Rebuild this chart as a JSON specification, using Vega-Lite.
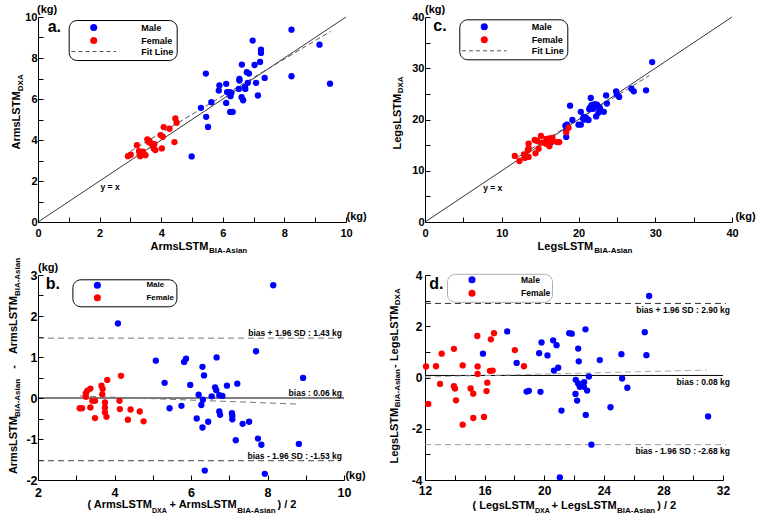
{
"$schema": "https://vega.github.io/schema/vega-lite/v6.json",
"background": "white",
"padding": {"left": 8, "top": 4, "right": 2, "bottom": 0},
"config": {
  "view": {"stroke": null},
  "font": "Liberation Sans",
  "axis": {"grid": false, "domainColor": "black", "tickColor": "black", "labelColor": "black", "labelFontWeight": "bold", "labelFont": "Liberation Sans", "tickSize": -5, "domainWidth": 1, "tickWidth": 1, "labelFlush": false, "labelOverlap": false},
  "text": {"font": "Liberation Sans", "fontWeight": "bold", "color": "black"},
  "legend": {"labelFont": "Liberation Sans", "labelFontWeight": "bold", "labelColor": "black"}
},
"columns": 2,
"spacing": {"row": 53, "column": 79},
"bounds": "flush",
"resolve": {"scale": {"color": "independent", "x": "independent", "y": "independent"}, "legend": {"color": "independent"}},
"concat": [
{
  "width": 308, "height": 205,
  "encoding": {
    "x": {"field": "x", "type": "quantitative", "title": null, "scale": {"domain": [0, 10], "nice": false, "zero": false},
      "axis": {"values": [0,1,2,3,4,5,6,7,8,9,10], "labelExpr": "datum.value % 2 === 0 ? '' + datum.value : ''", "labelFontSize": 11, "labelPadding": 10}},
    "y": {"field": "y", "type": "quantitative", "title": null, "scale": {"domain": [0, 10], "nice": false, "zero": false},
      "axis": {"values": [0,1,2,3,4,5,6,7,8,9,10], "labelExpr": "datum.value % 2 === 0 ? '' + datum.value : ''", "labelFontSize": 11, "labelPadding": 6}}
  },
  "layer": [
    {"data": {"values": [{"x": 0, "y": 0, "x2": 10, "y2": 10}]}, "mark": {"type": "rule", "color": "black", "strokeWidth": 0.8}, "encoding": {"x2": {"field": "x2"}, "y2": {"field": "y2"}}},
    {"data": {"values": [{"x": 3.0, "y": 3.45, "x2": 9.5, "y2": 9.3}]}, "mark": {"type": "rule", "color": "#555555", "strokeDash": [5, 3], "strokeWidth": 1}, "encoding": {"x2": {"field": "x2"}, "y2": {"field": "y2"}}},
    {"data": {"values": [
      {"x":8.23,"y":9.38,"s":"Male"},{"x":6.97,"y":8.85,"s":"Male"},{"x":9.14,"y":8.65,"s":"Male"},{"x":7.24,"y":8.41,"s":"Male"},{"x":7.24,"y":8.25,"s":"Male"},{"x":7.21,"y":7.81,"s":"Male"},{"x":6.62,"y":7.68,"s":"Male"},{"x":7.03,"y":7.66,"s":"Male"},{"x":6.78,"y":7.31,"s":"Male"},{"x":6.85,"y":7.24,"s":"Male"},{"x":5.45,"y":7.24,"s":"Male"},{"x":8.23,"y":7.11,"s":"Male"},{"x":7.36,"y":7.03,"s":"Male"},{"x":6.54,"y":6.98,"s":"Male"},{"x":6.54,"y":6.9,"s":"Male"},{"x":5.89,"y":6.66,"s":"Male"},{"x":6.11,"y":6.74,"s":"Male"},{"x":6.81,"y":6.79,"s":"Male"},{"x":7.08,"y":6.79,"s":"Male"},{"x":9.48,"y":6.75,"s":"Male"},{"x":6.72,"y":6.59,"s":"Male"},{"x":6.52,"y":6.49,"s":"Male"},{"x":6.73,"y":6.49,"s":"Male"},{"x":5.87,"y":6.41,"s":"Male"},{"x":6.14,"y":6.33,"s":"Male"},{"x":6.23,"y":6.33,"s":"Male"},{"x":6.28,"y":6.3,"s":"Male"},{"x":6.25,"y":6.14,"s":"Male"},{"x":7.14,"y":6.17,"s":"Male"},{"x":6.61,"y":6.09,"s":"Male"},{"x":6.66,"y":5.94,"s":"Male"},{"x":5.63,"y":5.84,"s":"Male"},{"x":6.11,"y":5.81,"s":"Male"},{"x":5.29,"y":5.57,"s":"Male"},{"x":6.24,"y":5.37,"s":"Male"},{"x":6.32,"y":5.37,"s":"Male"},{"x":5.46,"y":5.13,"s":"Male"},{"x":5.52,"y":4.64,"s":"Male"},{"x":4.99,"y":3.2,"s":"Male"},
      {"x":2.92,"y":3.21,"s":"Female"},{"x":3.01,"y":3.28,"s":"Female"},{"x":3.21,"y":3.75,"s":"Female"},{"x":3.28,"y":3.46,"s":"Female"},{"x":3.32,"y":3.21,"s":"Female"},{"x":3.35,"y":3.38,"s":"Female"},{"x":3.41,"y":3.43,"s":"Female"},{"x":3.49,"y":3.26,"s":"Female"},{"x":3.55,"y":4.03,"s":"Female"},{"x":3.59,"y":3.9,"s":"Female"},{"x":3.68,"y":3.83,"s":"Female"},{"x":3.73,"y":3.7,"s":"Female"},{"x":3.76,"y":3.59,"s":"Female"},{"x":3.81,"y":3.51,"s":"Female"},{"x":4.02,"y":3.59,"s":"Female"},{"x":3.98,"y":4.24,"s":"Female"},{"x":4.05,"y":4.16,"s":"Female"},{"x":4.08,"y":4.63,"s":"Female"},{"x":4.27,"y":4.55,"s":"Female"},{"x":4.43,"y":3.9,"s":"Female"},{"x":4.46,"y":5.05,"s":"Female"},{"x":4.5,"y":4.84,"s":"Female"},{"x":3.3,"y":3.3,"s":"Female"},{"x":3.62,"y":3.95,"s":"Female"},{"x":3.78,"y":3.8,"s":"Female"}
    ]},
     "mark": {"type": "circle", "size": 40, "opacity": 1},
     "encoding": {"color": {"field": "s", "type": "nominal", "scale": {"domain": ["Male", "Female", "Fit Line"], "range": ["#0000ff", "#ff0000", "transparent"]},
       "legend": {"orient": "none", "legendX": 30.7, "legendY": 3, "title": null, "strokeColor": "black", "cornerRadius": 8, "padding": 3, "symbolSize": 50, "symbolOffset": 17.5, "labelOffset": 43, "rowPadding": 0, "labelFontSize": 9,
         "symbolType": {"expr": "datum.value === 'Fit Line' ? 'M-6.3,0H6.3' : 'circle'"},
         "symbolStrokeColor": {"expr": "datum.value === 'Fit Line' ? '#555555' : 'transparent'"},
         "symbolStrokeWidth": 1, "symbolDash": [4, 3], "symbolOpacity": 1}}}},
    {"data": {"values": [{"x": 0, "y": 10, "t": "(kg)"}]}, "mark": {"type": "text", "align": "left", "baseline": "middle", "dx": -1, "dy": -7, "fontSize": 11}, "encoding": {"text": {"field": "t"}}},
    {"data": {"values": [{"x": 10, "y": 0, "t": "(kg)"}]}, "mark": {"type": "text", "align": "left", "baseline": "middle", "dx": 0.5, "dy": -4.7, "fontSize": 11}, "encoding": {"text": {"field": "t"}}},
    {"data": {"values": [{"x": 0, "y": 10, "t": "a."}]}, "mark": {"type": "text", "align": "left", "baseline": "alphabetic", "dx": 9.7, "dy": 15, "fontSize": 16}, "encoding": {"text": {"field": "t"}}},
    {"data": {"values": [{"x": 2, "y": 2, "t": "y = x"}]}, "mark": {"type": "text", "align": "center", "baseline": "middle", "dx": 10.5, "dy": 6, "fontSize": 8.5}, "encoding": {"text": {"field": "t"}}},
    {"data": {"values": [{"x": 0, "y": 5, "t": "ArmsLSTM"}]}, "mark": {"type": "text", "angle": 270, "align": "left", "baseline": "alphabetic", "dx": -30, "dy": -17.6, "fontSize": 11}, "encoding": {"text": {"field": "t"}}},
    {"data": {"values": [{"x": 0, "y": 5, "t": "DXA"}]}, "mark": {"type": "text", "angle": 270, "align": "left", "baseline": "alphabetic", "dx": 28.3, "dy": -15.3, "fontSize": 8}, "encoding": {"text": {"field": "t"}}},
    {"data": {"values": [{"x": 5, "y": 0, "t": "ArmsLSTM"}]}, "mark": {"type": "text", "align": "right", "baseline": "alphabetic", "dx": 16.5, "dy": 28, "fontSize": 11}, "encoding": {"text": {"field": "t"}}},
    {"data": {"values": [{"x": 5, "y": 0, "t": "BIA-Asian"}]}, "mark": {"type": "text", "align": "left", "baseline": "alphabetic", "dx": 17, "dy": 30.5, "fontSize": 8}, "encoding": {"text": {"field": "t"}}}
  ]
},
{
  "width": 307, "height": 205,
  "encoding": {
    "x": {"field": "x", "type": "quantitative", "title": null, "scale": {"domain": [0, 40], "nice": false, "zero": false},
      "axis": {"values": [0,5,10,15,20,25,30,35,40], "labelExpr": "datum.value % 10 === 0 ? '' + datum.value : ''", "labelFontSize": 11, "labelPadding": 10}},
    "y": {"field": "y", "type": "quantitative", "title": null, "scale": {"domain": [0, 40], "nice": false, "zero": false},
      "axis": {"values": [0,5,10,15,20,25,30,35,40], "labelExpr": "datum.value % 10 === 0 ? '' + datum.value : ''", "labelFontSize": 11, "labelPadding": 6}}
  },
  "layer": [
    {"data": {"values": [{"x": 0, "y": 0, "x2": 40, "y2": 40}]}, "mark": {"type": "rule", "color": "black", "strokeWidth": 0.8}, "encoding": {"x2": {"field": "x2"}, "y2": {"field": "y2"}}},
    {"data": {"values": [{"x": 12, "y": 12.56, "x2": 29.2, "y2": 28.55}]}, "mark": {"type": "rule", "color": "#555555", "strokeDash": [5, 3], "strokeWidth": 1}, "encoding": {"x2": {"field": "x2"}, "y2": {"field": "y2"}}},
    {"data": {"values": [
      {"x":29.6,"y":31.2,"s":"Male"},{"x":26.9,"y":26.0,"s":"Male"},{"x":27.2,"y":25.5,"s":"Male"},{"x":28.8,"y":25.7,"s":"Male"},{"x":24.9,"y":25.5,"s":"Male"},{"x":25.0,"y":24.9,"s":"Male"},{"x":25.3,"y":24.4,"s":"Male"},{"x":23.6,"y":24.7,"s":"Male"},{"x":23.7,"y":23.1,"s":"Male"},{"x":21.6,"y":24.2,"s":"Male"},{"x":18.9,"y":22.7,"s":"Male"},{"x":23.3,"y":21.5,"s":"Male"},{"x":22.3,"y":20.6,"s":"Male"},{"x":22.6,"y":21.3,"s":"Male"},{"x":21.5,"y":22.3,"s":"Male"},{"x":21.7,"y":22.8,"s":"Male"},{"x":21.9,"y":22.1,"s":"Male"},{"x":22.1,"y":23.0,"s":"Male"},{"x":22.4,"y":22.9,"s":"Male"},{"x":22.6,"y":22.5,"s":"Male"},{"x":22.0,"y":22.3,"s":"Male"},{"x":20.3,"y":21.5,"s":"Male"},{"x":20.7,"y":20.5,"s":"Male"},{"x":21.0,"y":20.3,"s":"Male"},{"x":21.3,"y":19.9,"s":"Male"},{"x":20.8,"y":20.0,"s":"Male"},{"x":19.2,"y":19.9,"s":"Male"},{"x":20.0,"y":19.0,"s":"Male"},{"x":20.3,"y":19.0,"s":"Male"},{"x":18.3,"y":18.8,"s":"Male"},{"x":18.5,"y":19.0,"s":"Male"},{"x":18.4,"y":17.9,"s":"Male"},{"x":18.4,"y":16.6,"s":"Male"},{"x":16.4,"y":15.5,"s":"Male"},{"x":20.6,"y":20.2,"s":"Male"},{"x":21.4,"y":22.0,"s":"Male"},{"x":22.8,"y":22.2,"s":"Male"},
      {"x":11.7,"y":12.9,"s":"Female"},{"x":12.3,"y":11.9,"s":"Female"},{"x":12.9,"y":13.2,"s":"Female"},{"x":13.0,"y":12.5,"s":"Female"},{"x":13.5,"y":12.7,"s":"Female"},{"x":13.5,"y":15.3,"s":"Female"},{"x":13.5,"y":14.4,"s":"Female"},{"x":14.3,"y":16.0,"s":"Female"},{"x":14.4,"y":13.4,"s":"Female"},{"x":14.8,"y":14.3,"s":"Female"},{"x":15.1,"y":16.8,"s":"Female"},{"x":15.2,"y":15.5,"s":"Female"},{"x":15.7,"y":15.3,"s":"Female"},{"x":15.8,"y":16.2,"s":"Female"},{"x":16.2,"y":14.8,"s":"Female"},{"x":16.6,"y":16.4,"s":"Female"},{"x":17.2,"y":15.6,"s":"Female"},{"x":17.5,"y":15.6,"s":"Female"},{"x":18.4,"y":17.5,"s":"Female"},{"x":18.7,"y":18.4,"s":"Female"},{"x":16.2,"y":16.3,"s":"Female"},{"x":14.6,"y":15.8,"s":"Female"},{"x":15.9,"y":15.4,"s":"Female"},{"x":16.5,"y":15.8,"s":"Female"},{"x":13.4,"y":14.0,"s":"Female"}
    ]},
     "mark": {"type": "circle", "size": 40, "opacity": 1},
     "encoding": {"color": {"field": "s", "type": "nominal", "scale": {"domain": ["Male", "Female", "Fit Line"], "range": ["#0000ff", "#ff0000", "transparent"]},
       "legend": {"orient": "none", "legendX": 34.3, "legendY": 2.3, "title": null, "strokeColor": "black", "cornerRadius": 8, "padding": 3, "symbolSize": 50, "symbolOffset": 17.5, "labelOffset": 43, "rowPadding": 0, "labelFontSize": 9,
         "symbolType": {"expr": "datum.value === 'Fit Line' ? 'M-6.3,0H6.3' : 'circle'"},
         "symbolStrokeColor": {"expr": "datum.value === 'Fit Line' ? '#555555' : 'transparent'"},
         "symbolStrokeWidth": 1, "symbolDash": [4, 3], "symbolOpacity": 1}}}},
    {"data": {"values": [{"x": 0, "y": 40, "t": "(kg)"}]}, "mark": {"type": "text", "align": "left", "baseline": "middle", "dx": 0, "dy": -7, "fontSize": 11}, "encoding": {"text": {"field": "t"}}},
    {"data": {"values": [{"x": 40, "y": 0, "t": "(kg)"}]}, "mark": {"type": "text", "align": "left", "baseline": "middle", "dx": 3.4, "dy": -4.7, "fontSize": 11}, "encoding": {"text": {"field": "t"}}},
    {"data": {"values": [{"x": 0, "y": 40, "t": "c."}]}, "mark": {"type": "text", "align": "left", "baseline": "alphabetic", "dx": 8.3, "dy": 13.7, "fontSize": 16}, "encoding": {"text": {"field": "t"}}},
    {"data": {"values": [{"x": 10, "y": 10, "t": "y = x"}]}, "mark": {"type": "text", "align": "center", "baseline": "middle", "dx": -9, "dy": 17.6, "fontSize": 8.5}, "encoding": {"text": {"field": "t"}}},
    {"data": {"values": [{"x": 0, "y": 20, "t": "LegsLSTM"}]}, "mark": {"type": "text", "angle": 270, "align": "left", "baseline": "alphabetic", "dx": -30, "dy": -24.3, "fontSize": 11}, "encoding": {"text": {"field": "t"}}},
    {"data": {"values": [{"x": 0, "y": 20, "t": "DXA"}]}, "mark": {"type": "text", "angle": 270, "align": "left", "baseline": "alphabetic", "dx": 26.2, "dy": -22, "fontSize": 8}, "encoding": {"text": {"field": "t"}}},
    {"data": {"values": [{"x": 20, "y": 0, "t": "LegsLSTM"}]}, "mark": {"type": "text", "align": "right", "baseline": "alphabetic", "dx": 14.7, "dy": 28, "fontSize": 11}, "encoding": {"text": {"field": "t"}}},
    {"data": {"values": [{"x": 20, "y": 0, "t": "BIA-Asian"}]}, "mark": {"type": "text", "align": "left", "baseline": "alphabetic", "dx": 15.7, "dy": 30.5, "fontSize": 8}, "encoding": {"text": {"field": "t"}}}
  ]
},
{
  "width": 306, "height": 205,
  "encoding": {
    "x": {"field": "x", "type": "quantitative", "title": null, "scale": {"domain": [2, 10], "nice": false, "zero": false},
      "axis": {"values": [2,3,4,5,6,7,8,9,10], "labelExpr": "datum.value % 2 === 0 ? '' + datum.value : ''", "labelFontSize": 12.5, "labelPadding": 11}},
    "y": {"field": "y", "type": "quantitative", "title": null, "scale": {"domain": [-2, 3], "nice": false, "zero": false},
      "axis": {"values": [-2,-1.5,-1,-0.5,0,0.5,1,1.5,2,2.5,3], "labelExpr": "datum.value % 1 === 0 ? '' + datum.value : ''", "labelFontSize": 12.5, "labelPadding": 6}}
  },
  "layer": [
    {"data": {"values": [{"x": 2, "x2": 10, "y": 0}]}, "mark": {"type": "rule", "color": "black", "strokeWidth": 1}, "encoding": {"x2": {"field": "x2"}}},
    {"data": {"values": [{"x": 2, "x2": 9.9, "y": 1.46}]}, "mark": {"type": "rule", "color": "#777777", "strokeDash": [6, 4], "strokeWidth": 1}, "encoding": {"x2": {"field": "x2"}}},
    {"data": {"values": [{"x": 2, "x2": 9.9, "y": -1.53}]}, "mark": {"type": "rule", "color": "#444444", "strokeDash": [6, 4], "strokeWidth": 1}, "encoding": {"x2": {"field": "x2"}}},
    {"data": {"values": [{"x": 3.1, "y": 0.05, "x2": 8.85, "y2": -0.15}]}, "mark": {"type": "rule", "color": "#777777", "strokeDash": [6, 4], "strokeWidth": 1}, "encoding": {"x2": {"field": "x2"}, "y2": {"field": "y2"}}},
    {"data": {"values": [
      {"x":8.15,"y":2.75,"s":"Male"},{"x":4.09,"y":1.82,"s":"Male"},{"x":7.7,"y":1.14,"s":"Male"},{"x":5.08,"y":0.91,"s":"Male"},{"x":5.82,"y":0.88,"s":"Male"},{"x":5.87,"y":0.96,"s":"Male"},{"x":6.67,"y":0.99,"s":"Male"},{"x":6.3,"y":0.76,"s":"Male"},{"x":6.34,"y":0.55,"s":"Male"},{"x":8.93,"y":0.49,"s":"Male"},{"x":5.31,"y":0.37,"s":"Male"},{"x":5.98,"y":0.32,"s":"Male"},{"x":7.21,"y":0.35,"s":"Male"},{"x":6.94,"y":0.3,"s":"Male"},{"x":6.63,"y":0.26,"s":"Male"},{"x":6.66,"y":0.19,"s":"Male"},{"x":6.2,"y":0.08,"s":"Male"},{"x":6.74,"y":0.07,"s":"Male"},{"x":6.82,"y":0.05,"s":"Male"},{"x":6.54,"y":0.04,"s":"Male"},{"x":6.31,"y":-0.04,"s":"Male"},{"x":5.75,"y":-0.19,"s":"Male"},{"x":5.44,"y":-0.25,"s":"Male"},{"x":6.27,"y":-0.17,"s":"Male"},{"x":6.74,"y":-0.33,"s":"Male"},{"x":6.76,"y":-0.41,"s":"Male"},{"x":7.07,"y":-0.37,"s":"Male"},{"x":7.08,"y":-0.43,"s":"Male"},{"x":7.08,"y":-0.52,"s":"Male"},{"x":6.15,"y":-0.5,"s":"Male"},{"x":6.45,"y":-0.58,"s":"Male"},{"x":7.52,"y":-0.58,"s":"Male"},{"x":7.35,"y":-0.63,"s":"Male"},{"x":6.3,"y":-0.72,"s":"Male"},{"x":7.17,"y":-1.03,"s":"Male"},{"x":7.75,"y":-0.99,"s":"Male"},{"x":7.84,"y":-1.14,"s":"Male"},{"x":8.82,"y":-1.12,"s":"Male"},{"x":6.36,"y":-1.77,"s":"Male"},{"x":7.93,"y":-1.85,"s":"Male"},
      {"x":3.09,"y":-0.25,"s":"Female"},{"x":3.15,"y":-0.25,"s":"Female"},{"x":3.25,"y":0.11,"s":"Female"},{"x":3.25,"y":0.03,"s":"Female"},{"x":3.29,"y":0.18,"s":"Female"},{"x":3.37,"y":0.23,"s":"Female"},{"x":3.42,"y":-0.07,"s":"Female"},{"x":3.37,"y":-0.23,"s":"Female"},{"x":3.49,"y":-0.49,"s":"Female"},{"x":3.49,"y":-0.07,"s":"Female"},{"x":3.66,"y":0.3,"s":"Female"},{"x":3.69,"y":0.22,"s":"Female"},{"x":3.68,"y":0.09,"s":"Female"},{"x":3.75,"y":-0.11,"s":"Female"},{"x":3.75,"y":-0.23,"s":"Female"},{"x":3.75,"y":-0.35,"s":"Female"},{"x":3.79,"y":-0.46,"s":"Female"},{"x":3.81,"y":0.44,"s":"Female"},{"x":4.13,"y":-0.07,"s":"Female"},{"x":4.14,"y":-0.27,"s":"Female"},{"x":4.17,"y":0.54,"s":"Female"},{"x":4.35,"y":-0.53,"s":"Female"},{"x":4.42,"y":-0.28,"s":"Female"},{"x":4.66,"y":-0.33,"s":"Female"},{"x":4.76,"y":-0.57,"s":"Female"}
    ]},
     "mark": {"type": "circle", "size": 40, "opacity": 1},
     "encoding": {"color": {"field": "s", "type": "nominal", "scale": {"domain": ["Male", "Female"], "range": ["#0000ff", "#ff0000"]},
       "legend": {"orient": "none", "legendX": 34.4, "legendY": 4.3, "title": null, "strokeColor": "black", "cornerRadius": 8, "padding": 1.5, "symbolSize": 50, "symbolOffset": 19, "labelOffset": 44.5, "rowPadding": -2.5, "labelFontSize": 8, "symbolOpacity": 1, "symbolStrokeColor": "transparent"}}}},
    {"data": {"values": [{"x": 10, "y": 1.46, "t": "bias + 1.96 SD : 1.43 kg"}, {"x": 10, "y": 0, "t": "bias : 0.06 kg"}, {"x": 10, "y": -1.53, "t": "bias - 1.96 SD : -1.53 kg"}]}, "mark": {"type": "text", "align": "right", "baseline": "middle", "dx": -2, "dy": -5, "fontSize": 8.5}, "encoding": {"text": {"field": "t"}}},
    {"data": {"values": [{"x": 2, "y": 3, "t": "(kg)"}]}, "mark": {"type": "text", "align": "left", "baseline": "middle", "dx": 0, "dy": -6.7, "fontSize": 11}, "encoding": {"text": {"field": "t"}}},
    {"data": {"values": [{"x": 10, "y": -2, "t": "(kg)"}]}, "mark": {"type": "text", "align": "left", "baseline": "middle", "dx": 1.4, "dy": -4.3, "fontSize": 11}, "encoding": {"text": {"field": "t"}}},
    {"data": {"values": [{"x": 2, "y": 3, "t": "b."}]}, "mark": {"type": "text", "align": "left", "baseline": "alphabetic", "dx": 7.7, "dy": 14.3, "fontSize": 16}, "encoding": {"text": {"field": "t"}}},
    {"data": {"values": [{"x": 2, "y": 0.5, "t": "ArmsLSTM"}]}, "mark": {"type": "text", "angle": 270, "align": "left", "baseline": "alphabetic", "dx": -96.6, "dy": -20.6, "fontSize": 11}, "encoding": {"text": {"field": "t"}}},
    {"data": {"values": [{"x": 2, "y": 0.5, "t": "BIA-Asian"}]}, "mark": {"type": "text", "angle": 270, "align": "left", "baseline": "alphabetic", "dx": -39.6, "dy": -18.3, "fontSize": 8}, "encoding": {"text": {"field": "t"}}},
    {"data": {"values": [{"x": 2, "y": 0.5, "t": "-"}]}, "mark": {"type": "text", "angle": 270, "align": "center", "baseline": "alphabetic", "dx": 10.7, "dy": -20.6, "fontSize": 11}, "encoding": {"text": {"field": "t"}}},
    {"data": {"values": [{"x": 2, "y": 0.5, "t": "ArmsLSTM"}]}, "mark": {"type": "text", "angle": 270, "align": "left", "baseline": "alphabetic", "dx": 23.4, "dy": -20.6, "fontSize": 11}, "encoding": {"text": {"field": "t"}}},
    {"data": {"values": [{"x": 2, "y": 0.5, "t": "BIA-Asian"}]}, "mark": {"type": "text", "angle": 270, "align": "left", "baseline": "alphabetic", "dx": 81.4, "dy": -18.3, "fontSize": 8}, "encoding": {"text": {"field": "t"}}},
    {"data": {"values": [{"x": 6, "y": -2, "t": "( ArmsLSTM"}]}, "mark": {"type": "text", "align": "right", "baseline": "alphabetic", "dx": -39.2, "dy": 28, "fontSize": 11}, "encoding": {"text": {"field": "t"}}},
    {"data": {"values": [{"x": 6, "y": -2, "t": "DXA"}]}, "mark": {"type": "text", "align": "left", "baseline": "alphabetic", "dx": -39, "dy": 32.5, "fontSize": 7}, "encoding": {"text": {"field": "t"}}},
    {"data": {"values": [{"x": 6, "y": -2, "t": "+ ArmsLSTM"}]}, "mark": {"type": "text", "align": "left", "baseline": "alphabetic", "dx": -21.4, "dy": 28, "fontSize": 11}, "encoding": {"text": {"field": "t"}}},
    {"data": {"values": [{"x": 6, "y": -2, "t": "BIA-Asian"}]}, "mark": {"type": "text", "align": "left", "baseline": "alphabetic", "dx": 46.3, "dy": 32.5, "fontSize": 8}, "encoding": {"text": {"field": "t"}}},
    {"data": {"values": [{"x": 6, "y": -2, "t": ") / 2"}]}, "mark": {"type": "text", "align": "left", "baseline": "alphabetic", "dx": 86.5, "dy": 28, "fontSize": 11}, "encoding": {"text": {"field": "t"}}}
  ]
},
{
  "width": 298, "height": 205,
  "encoding": {
    "x": {"field": "x", "type": "quantitative", "title": null, "scale": {"domain": [12, 32], "nice": false, "zero": false},
      "axis": {"values": [12,14,16,18,20,22,24,26,28,30,32], "labelExpr": "datum.value % 4 === 0 ? '' + datum.value : ''", "labelFontSize": 12, "labelPadding": 10}},
    "y": {"field": "y", "type": "quantitative", "title": null, "scale": {"domain": [-4, 4], "nice": false, "zero": false},
      "axis": {"values": [-4,-3,-2,-1,0,1,2,3,4], "labelExpr": "datum.value % 2 === 0 ? '' + datum.value : ''", "labelFontSize": 12, "labelPadding": 8}}
  },
  "layer": [
    {"data": {"values": [{"x": 12, "x2": 32, "y": 0.08}]}, "mark": {"type": "rule", "color": "black", "strokeWidth": 1}, "encoding": {"x2": {"field": "x2"}}},
    {"data": {"values": [{"x": 12, "x2": 32.2, "y": 2.89}]}, "mark": {"type": "rule", "color": "#333333", "strokeDash": [6, 4], "strokeWidth": 1}, "encoding": {"x2": {"field": "x2"}}},
    {"data": {"values": [{"x": 12, "x2": 32.2, "y": -2.62}]}, "mark": {"type": "rule", "color": "#999999", "strokeDash": [6, 4], "strokeWidth": 1}, "encoding": {"x2": {"field": "x2"}}},
    {"data": {"values": [{"x": 12, "y": 0.02, "x2": 30.9, "y2": 0.29}]}, "mark": {"type": "rule", "color": "#aaaaaa", "strokeDash": [6, 4], "strokeWidth": 1}, "encoding": {"x2": {"field": "x2"}, "y2": {"field": "y2"}}},
    {"data": {"values": [
      {"x":27.04,"y":3.18,"s":"Male"},{"x":22.77,"y":1.88,"s":"Male"},{"x":17.52,"y":1.8,"s":"Male"},{"x":21.68,"y":1.73,"s":"Male"},{"x":21.85,"y":1.71,"s":"Male"},{"x":26.75,"y":1.77,"s":"Male"},{"x":20.6,"y":1.45,"s":"Male"},{"x":19.82,"y":1.37,"s":"Male"},{"x":20.83,"y":1.26,"s":"Male"},{"x":22.28,"y":1.13,"s":"Male"},{"x":19.66,"y":0.95,"s":"Male"},{"x":25.18,"y":0.91,"s":"Male"},{"x":26.86,"y":0.87,"s":"Male"},{"x":20.22,"y":0.86,"s":"Male"},{"x":15.89,"y":0.93,"s":"Male"},{"x":18.15,"y":0.57,"s":"Male"},{"x":22.32,"y":0.63,"s":"Male"},{"x":23.73,"y":0.68,"s":"Male"},{"x":20.94,"y":0.38,"s":"Male"},{"x":20.65,"y":0.27,"s":"Male"},{"x":23.0,"y":0.04,"s":"Male"},{"x":22.12,"y":-0.09,"s":"Male"},{"x":25.23,"y":-0.04,"s":"Male"},{"x":22.28,"y":-0.23,"s":"Male"},{"x":22.68,"y":-0.18,"s":"Male"},{"x":22.66,"y":-0.36,"s":"Male"},{"x":22.39,"y":-0.36,"s":"Male"},{"x":22.88,"y":-0.51,"s":"Male"},{"x":18.82,"y":-0.55,"s":"Male"},{"x":18.97,"y":-0.52,"s":"Male"},{"x":19.75,"y":-0.56,"s":"Male"},{"x":25.58,"y":-0.4,"s":"Male"},{"x":22.1,"y":-0.64,"s":"Male"},{"x":22.21,"y":-0.9,"s":"Male"},{"x":21.16,"y":-1.29,"s":"Male"},{"x":24.45,"y":-1.16,"s":"Male"},{"x":22.79,"y":-1.46,"s":"Male"},{"x":31.0,"y":-1.52,"s":"Male"},{"x":23.17,"y":-2.62,"s":"Male"},{"x":21.05,"y":-3.9,"s":"Male"},
      {"x":12.07,"y":0.43,"s":"Female"},{"x":12.22,"y":-1.03,"s":"Female"},{"x":12.74,"y":0.44,"s":"Female"},{"x":13.01,"y":-0.25,"s":"Female"},{"x":13.12,"y":0.93,"s":"Female"},{"x":13.94,"y":1.12,"s":"Female"},{"x":13.94,"y":-0.34,"s":"Female"},{"x":14.01,"y":-0.43,"s":"Female"},{"x":14.08,"y":-0.89,"s":"Female"},{"x":14.53,"y":0.47,"s":"Female"},{"x":14.53,"y":-1.84,"s":"Female"},{"x":15.06,"y":-0.43,"s":"Female"},{"x":15.24,"y":-0.63,"s":"Female"},{"x":15.24,"y":-1.58,"s":"Female"},{"x":15.51,"y":1.62,"s":"Female"},{"x":15.53,"y":0.43,"s":"Female"},{"x":15.53,"y":0.14,"s":"Female"},{"x":15.96,"y":-1.54,"s":"Female"},{"x":16.18,"y":-0.2,"s":"Female"},{"x":16.13,"y":-0.53,"s":"Female"},{"x":16.42,"y":1.49,"s":"Female"},{"x":16.36,"y":0.26,"s":"Female"},{"x":16.54,"y":0.27,"s":"Female"},{"x":16.63,"y":1.73,"s":"Female"},{"x":18.03,"y":1.07,"s":"Female"},{"x":18.64,"y":0.44,"s":"Female"}
    ]},
     "mark": {"type": "circle", "size": 40, "opacity": 1},
     "encoding": {"color": {"field": "s", "type": "nominal", "scale": {"domain": ["Male", "Female"], "range": ["#0000ff", "#ff0000"]},
       "legend": {"orient": "none", "legendX": 22, "legendY": -1.2, "title": null, "strokeColor": "#b0b0b0", "cornerRadius": 8, "padding": 1.5, "symbolSize": 50, "symbolOffset": 19, "labelOffset": 44.5, "rowPadding": -1.5, "labelFontSize": 8.5, "symbolOpacity": 1, "symbolStrokeColor": "transparent"}}}},
    {"data": {"values": [{"x": 32, "y": 2.89, "t": "bias + 1.96 SD : 2.90 kg"}, {"x": 32, "y": 0.08, "t": "bias : 0.08 kg"}, {"x": 32, "y": -2.62, "t": "bias - 1.96 SD : -2.68 kg"}]}, "mark": {"type": "text", "align": "right", "baseline": "middle", "dx": 7, "dy": 6.5, "fontSize": 8.5}, "encoding": {"text": {"field": "t"}}},
    {"data": {"values": [{"x": 12, "y": 4, "t": "d."}]}, "mark": {"type": "text", "align": "left", "baseline": "alphabetic", "dx": 4.3, "dy": 14.3, "fontSize": 16}, "encoding": {"text": {"field": "t"}}},
    {"data": {"values": [{"x": 12, "y": 0, "t": "LegsLSTM"}]}, "mark": {"type": "text", "angle": 270, "align": "left", "baseline": "alphabetic", "dx": -86, "dy": -27, "fontSize": 11}, "encoding": {"text": {"field": "t"}}},
    {"data": {"values": [{"x": 12, "y": 0, "t": "BIA-Asian"}]}, "mark": {"type": "text", "angle": 270, "align": "left", "baseline": "alphabetic", "dx": -29.8, "dy": -25, "fontSize": 8}, "encoding": {"text": {"field": "t"}}},
    {"data": {"values": [{"x": 12, "y": 0, "t": "-"}]}, "mark": {"type": "text", "angle": 270, "align": "center", "baseline": "alphabetic", "dx": 11.4, "dy": -27, "fontSize": 11}, "encoding": {"text": {"field": "t"}}},
    {"data": {"values": [{"x": 12, "y": 0, "t": "LegsLSTM"}]}, "mark": {"type": "text", "angle": 270, "align": "left", "baseline": "alphabetic", "dx": 16.4, "dy": -27, "fontSize": 11}, "encoding": {"text": {"field": "t"}}},
    {"data": {"values": [{"x": 12, "y": 0, "t": "DXA"}]}, "mark": {"type": "text", "angle": 270, "align": "left", "baseline": "alphabetic", "dx": 72.3, "dy": -25, "fontSize": 8}, "encoding": {"text": {"field": "t"}}},
    {"data": {"values": [{"x": 22, "y": -4, "t": "( LegsLSTM"}]}, "mark": {"type": "text", "align": "right", "baseline": "alphabetic", "dx": -39.2, "dy": 29.2, "fontSize": 11}, "encoding": {"text": {"field": "t"}}},
    {"data": {"values": [{"x": 22, "y": -4, "t": "DXA"}]}, "mark": {"type": "text", "align": "left", "baseline": "alphabetic", "dx": -39, "dy": 33.2, "fontSize": 7}, "encoding": {"text": {"field": "t"}}},
    {"data": {"values": [{"x": 22, "y": -4, "t": "+ LegsLSTM"}]}, "mark": {"type": "text", "align": "left", "baseline": "alphabetic", "dx": -22.4, "dy": 29.2, "fontSize": 11}, "encoding": {"text": {"field": "t"}}},
    {"data": {"values": [{"x": 22, "y": -4, "t": "BIA-Asian"}]}, "mark": {"type": "text", "align": "left", "baseline": "alphabetic", "dx": 43, "dy": 33.2, "fontSize": 8}, "encoding": {"text": {"field": "t"}}},
    {"data": {"values": [{"x": 22, "y": -4, "t": ") / 2"}]}, "mark": {"type": "text", "align": "left", "baseline": "alphabetic", "dx": 83.2, "dy": 29.2, "fontSize": 11}, "encoding": {"text": {"field": "t"}}}
  ]
}
]
}
